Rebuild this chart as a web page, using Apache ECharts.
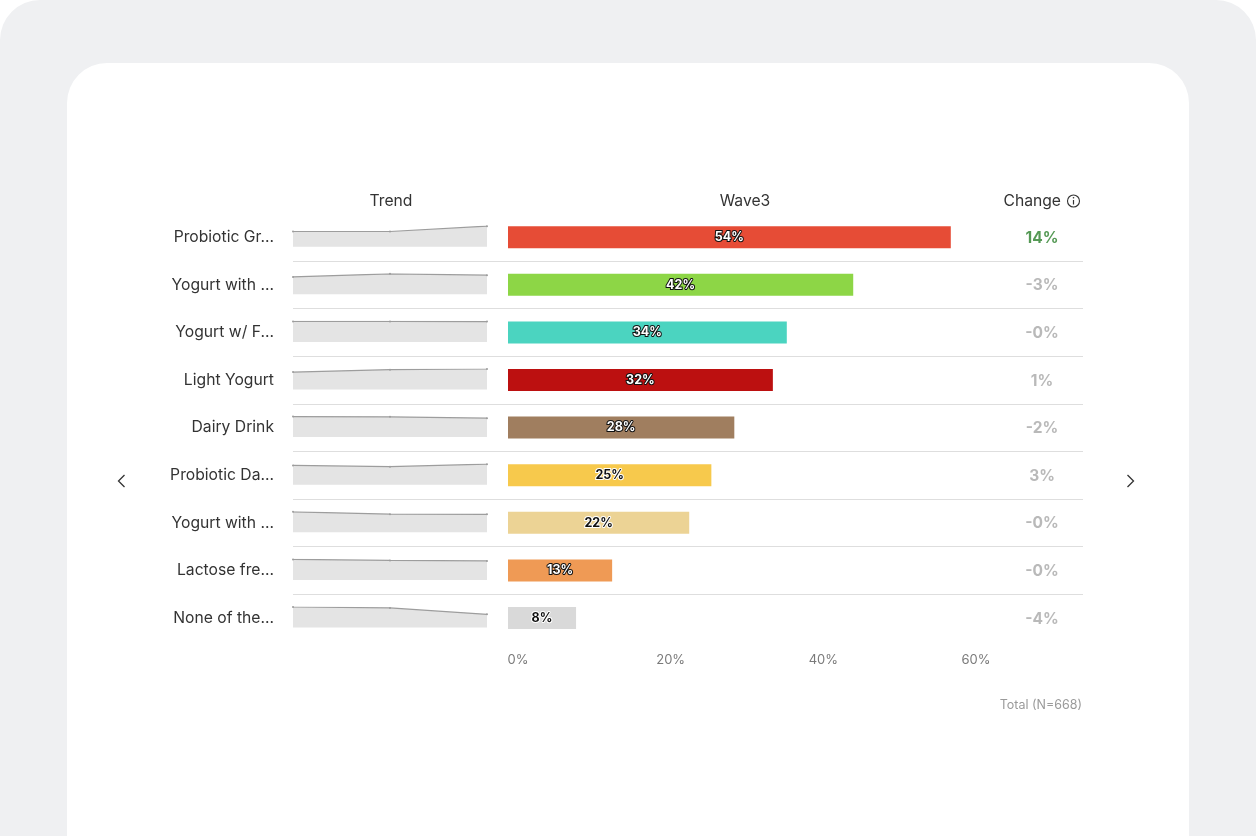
<!DOCTYPE html>
<html><head><meta charset="utf-8">
<script src="https://cdn.jsdelivr.net/npm/echarts@6/dist/echarts.min.js"></script>
<style>
html,body{margin:0;padding:0;background:#ffffff;overflow:hidden;}
#outer{position:absolute;left:0;top:0;width:1256px;height:900px;background:#eff0f2;border-radius:40px 40px 0 0;}
#card{position:absolute;left:67px;top:63px;width:1122px;height:900px;background:#ffffff;border-radius:40px;}
#c{position:absolute;left:0;top:0;width:1256px;height:836px;}
</style>
</head><body>
<div id="outer"></div><div id="card"></div>
<div id="c"></div>
<script>
// ---- data ----
const categories = ["Probiotic Gr...", "Yogurt with ...", "Yogurt w/ F...", "Light Yogurt", "Dairy Drink", "Probiotic Da...", "Yogurt with ...", "Lactose fre...", "None of the..."];
const wave1 = [40, 38.3, 34.3, 27.5, 29.9, 23.3, 25.2, 13.7, 12.9];
const wave2 = [40, 45.1, 34.3, 31.3, 29.6, 21.8, 22.3, 13.0, 12.3];
const wave3 = [54.0, 42.1, 34.0, 32.3, 27.6, 24.8, 22.1, 12.7, 8.3];
const change = [14, -3, -0.3, 1, -2, 3, -0.2, -0.3, -4];
const changeSignificant = [true, false, false, false, false, false, false, false, false];
const barColors = ["#e64c36", "#8dd646", "#4bd4c0", "#bc1010", "#a07e5f", "#f7c94c", "#ecd395", "#ef9a55", "#d9d9d9"];
const darkLabel = [false, false, false, false, false, true, true, false, true];
const xTicks = [0, 20, 40, 60];
const waves = ["Wave1", "Wave2", "Wave3"];
const totalText = "Total (N=668)";

// ---- layout ----
const FONT = "Inter, 'Noto Sans', sans-serif";
const ROW_TOP = 213.4, ROW_H = 47.6, N = categories.length;
const chart = echarts.init(document.getElementById('c'), null, {renderer: 'canvas'});

const grids = [
  {left: 508, top: ROW_TOP, width: 492, height: ROW_H * N},            // 0 bars
  {left: 293, top: ROW_TOP + ROW_H, width: 790, height: ROW_H * (N - 2)}, // 1 separators
  {left: 1000, top: ROW_TOP, width: 82, height: ROW_H * N},            // 2 change
  {left: 518, top: 645, width: 458, height: 1}                          // 3 tick labels
];
const xAxes = [
  {gridIndex: 0, type: 'value', min: 0, max: 60, show: false},
  {gridIndex: 1, type: 'value', min: 0, max: 1, show: false},
  {gridIndex: 2, type: 'value', min: 0, max: 1, show: false},
  {gridIndex: 3, type: 'value', min: 0, max: 60, interval: 20,
   axisLine: {show: false}, axisTick: {show: false}, splitLine: {show: false},
   axisLabel: {margin: 8, fontSize: 13, color: '#7a7a7a', fontFamily: FONT, formatter: v => v + '%',
               customValues: xTicks}}
];
const yAxes = [
  {gridIndex: 0, type: 'category', inverse: true, data: categories,
   axisLine: {show: false}, axisTick: {show: false}, splitLine: {show: false},
   axisLabel: {margin: 234, fontSize: 15.7, color: '#333', fontFamily: FONT}},
  {gridIndex: 1, type: 'value', min: 0, max: N - 2, interval: 1,
   axisLine: {show: false}, axisTick: {show: false}, axisLabel: {show: false},
   splitLine: {show: true, lineStyle: {color: '#dedede', width: 1}}},
  {gridIndex: 2, type: 'category', inverse: true, data: categories.map((c, i) => i), show: false},
  {gridIndex: 3, type: 'value', show: false}
];
const series = [
  {
    type: 'bar', xAxisIndex: 0, yAxisIndex: 0, barWidth: 22, silent: true,
    data: wave3.map((v, i) => ({
      value: v,
      itemStyle: {color: barColors[i]},
      label: {
        color: darkLabel[i] ? '#111' : '#fff',
        textBorderColor: darkLabel[i] ? '#fff' : '#111',
        textBorderWidth: 2
      }
    })),
    label: {show: true, position: 'inside', fontSize: 12.5, fontWeight: 'bold', fontFamily: FONT,
            formatter: p => Math.round(p.value) + '%'}
  },
  {
    type: 'scatter', xAxisIndex: 2, yAxisIndex: 2, symbolSize: 1, silent: true,
    itemStyle: {color: 'rgba(0,0,0,0)'},
    data: change.map((v, i) => ({
      value: [0.5, i],
      label: {color: changeSignificant[i] ? '#2b7f2b' : '#a8a8a8'}
    })),
    label: {show: true, position: 'inside', fontSize: 15.5, fontWeight: 'bold', fontFamily: FONT, offset: [1, 1],
            formatter: p => {const v = change[p.dataIndex]; return (v < 0 ? '-' : '') + Math.abs(Math.round(v)) + '%';}}
  }
];

for (let i = 0; i < N; i++) {
  const gi = grids.length;
  grids.push({left: 293, top: ROW_TOP + ROW_H * i + ROW_H / 2 - 11, width: 194, height: 20.5});
  xAxes.push({gridIndex: gi, type: 'category', boundaryGap: false, data: waves, show: false});
  yAxes.push({gridIndex: gi, type: 'value', min: 0, max: 'dataMax', show: false});
  series.push({
    type: 'line', xAxisIndex: xAxes.length - 1, yAxisIndex: yAxes.length - 1, silent: true,
    data: [wave1[i], wave2[i], wave3[i]],
    symbol: 'circle', symbolSize: 2, showSymbol: true,
    lineStyle: {color: '#9d9d9d', width: 1.2},
    itemStyle: {color: '#9d9d9d'},
    areaStyle: {color: '#e4e4e4', opacity: 1}
  });
}

const textStyle = (t, x, y, align, size, color, weight) => ({
  type: 'text', x: x, y: y, z: 100,
  style: {text: t, fill: color, font: (weight || 'normal') + ' ' + size + 'px ' + FONT, textAlign: align, textVerticalAlign: 'middle'}
});

const graphic = [
  textStyle('Trend', 391, 201, 'center', 15.7, '#333'),
  textStyle('Wave3', 745, 201, 'center', 15.7, '#333'),
  textStyle('Change', 1061, 201, 'right', 15.7, '#333'),
  {type: 'circle', z: 100, shape: {cx: 1073.5, cy: 201, r: 6}, style: {fill: 'none', stroke: '#333', lineWidth: 1.1}},
  {type: 'line', z: 100, shape: {x1: 1073.5, y1: 200, x2: 1073.5, y2: 204.5}, style: {stroke: '#333', lineWidth: 1.2}},
  {type: 'circle', z: 100, shape: {cx: 1073.5, cy: 197.7, r: 0.8}, style: {fill: '#333'}},
  textStyle(totalText, 1082, 705, 'right', 12.5, '#9a9a9a'),
  {type: 'polyline', z: 100, shape: {points: [[124.5, 475], [118.5, 481], [124.5, 487]]}, style: {fill: 'none', stroke: '#333', lineWidth: 1.3}},
  {type: 'polyline', z: 100, shape: {points: [[1127.5, 475], [1133.5, 481], [1127.5, 487]]}, style: {fill: 'none', stroke: '#333', lineWidth: 1.3}}
];

chart.setOption({
  animation: false,
  backgroundColor: 'transparent',
  textStyle: {fontFamily: FONT},
  grid: grids, xAxis: xAxes, yAxis: yAxes, series: series, graphic: graphic
});
</script>
</body></html>
